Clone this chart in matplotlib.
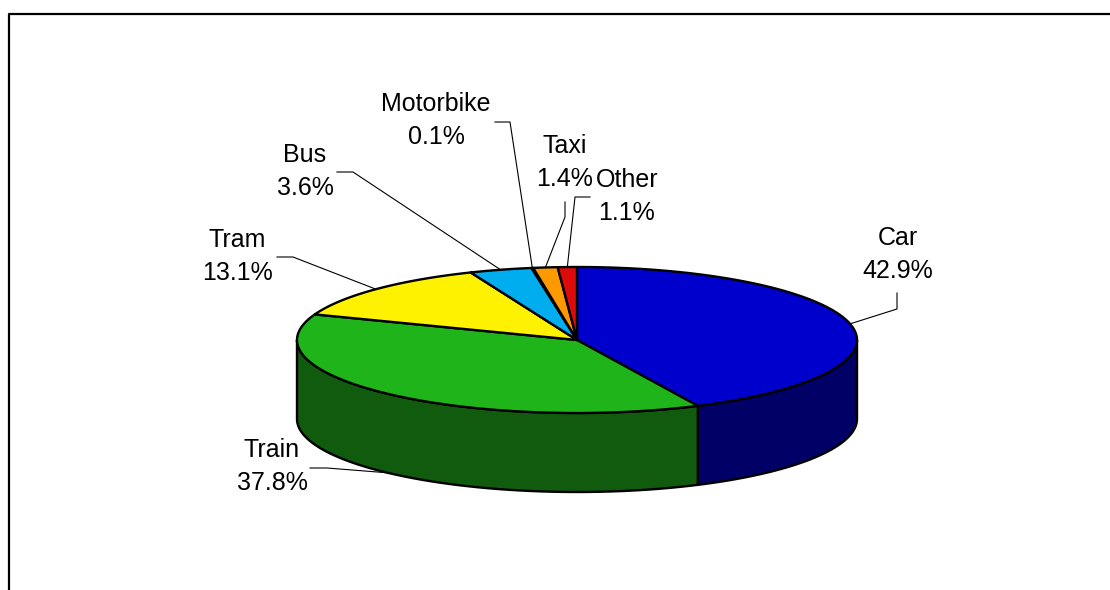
import numpy as np
import matplotlib.pyplot as plt
from matplotlib.patches import Polygon
from matplotlib.colors import to_rgb

# modal split
modes = ["Car", "Train", "Tram", "Bus", "Motorbike", "Taxi", "Other"]
shares = [42.9, 37.8, 13.1, 3.6, 0.1, 1.4, 1.1]
top_colours = ["#0000CC", "#1FB51A", "#FFF200", "#00AEEF", "#9933CC", "#FF9900", "#DD0A0A"]

# label placement (pixel space): baseline of the name line
label_xy = [(898, 245), (272, 457), (237, 247), (305, 162), (436, 111), (565, 153), (627, 187)]
# leader line points on the text side, the last one is joined to the slice
leader_pts = [
    [(897, 293), (897, 309)],
    [(310, 468), (327, 468)],
    [(277, 257), (293, 257)],
    [(337, 172), (353, 172)],
    [(495, 122), (510, 122)],
    [(565, 202), (565, 217)],
    [(590, 197), (575, 197)],
]

# pie geometry in pixels
CX, CY, RX, RY, DEPTH = 577, 340, 280, 73, 79
FONT = "Liberation Sans"


def rim(a0, a1, z=0):
    # points along the ellipse, angles clockwise from 12 o'clock
    n = max(int(abs(a1 - a0) * 2), 2)
    t = np.radians(np.linspace(a0, a1, n))
    return np.column_stack([CX + RX * np.sin(t), CY - RY * np.cos(t) + z])


def rim_pt(a, z=0):
    t = np.radians(a)
    return CX + RX * np.sin(t), CY - RY * np.cos(t) + z


fig = plt.figure(figsize=(11.1, 5.9), dpi=100)
ax = fig.add_axes([0, 0, 1, 1])
ax.set_xlim(0, 1110)
ax.set_ylim(590, 0)
ax.axis("off")

angles = np.concatenate([[0], np.cumsum(shares) / sum(shares) * 360])

# side walls (only the front half shows)
for i in range(len(modes)):
    a0, a1 = max(angles[i], 90), min(angles[i + 1], 270)
    if a1 <= a0:
        continue
    side = np.vstack([rim(a0, a1), rim(a1, a0, DEPTH)])
    dark = tuple(c * 0.5 for c in to_rgb(top_colours[i]))
    ax.add_patch(Polygon(side, closed=True, facecolor=dark, edgecolor="black",
                         linewidth=1.7, joinstyle="round"))

# top face
for i in range(len(modes)):
    wedge = np.vstack([[CX, CY], rim(angles[i], angles[i + 1])])
    ax.add_patch(Polygon(wedge, closed=True, facecolor=top_colours[i], edgecolor="black",
                         linewidth=1.7, joinstyle="round"))

# labels and leader lines
for i, name in enumerate(modes):
    mid = (angles[i] + angles[i + 1]) / 2
    z = DEPTH if 90 < mid < 270 else 0
    pts = leader_pts[i] + [rim_pt(mid, z)]
    xs, ys = zip(*pts)
    ax.plot(xs, ys, color="black", linewidth=0.8)
    x, y = label_xy[i]
    ax.text(x, y, name, ha="center", va="baseline", fontsize=18, family=FONT)
    ax.text(x, y + 33, f"{shares[i]:.1f}%", ha="center", va="baseline", fontsize=18, family=FONT)

# chart area border
ax.plot([9, 9, 1120], [600, 14, 14], color="black", linewidth=1.6, clip_on=False)

fig.savefig("out.png", dpi=100)
